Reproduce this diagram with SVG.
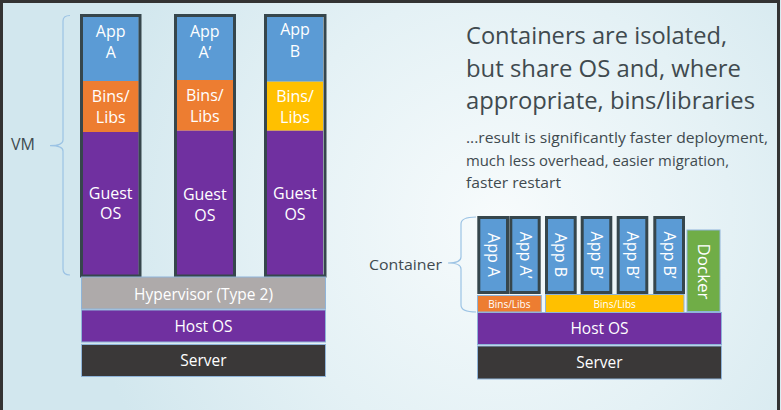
<svg xmlns="http://www.w3.org/2000/svg" width="781" height="410" viewBox="0 0 781 410">
<defs>
<radialGradient id="bg" cx="500" cy="220" r="420" gradientUnits="userSpaceOnUse">
<stop offset="0" stop-color="#f7fbfc"/>
<stop offset="0.55" stop-color="#e4f1f5"/>
<stop offset="1" stop-color="#d2e7ee"/>
</radialGradient>
<style>
.t{font-family:"Open Sans","Liberation Sans",sans-serif;fill:#ffffff;text-anchor:middle}
.c{font-size:16px}
.lbl{font-family:"Open Sans","Liberation Sans",sans-serif;fill:#404a4f}
.col{fill:none;stroke:#36464c;stroke-width:3}
.bar{stroke:#8fb4d9;stroke-width:1}
.brace{fill:none;stroke:#9cc3e4;stroke-width:1.2}
.app{fill:#5b9bd5;stroke:#36464c;stroke-width:3}
</style>
</defs>
<rect x="0" y="0" width="781" height="410" fill="url(#bg)"/>
<path d="M1.5 410 V1.5 H778.5 V410" fill="none" stroke="#333333" stroke-width="3"/>

<g id="vm-label">
<text class="lbl" x="11" y="150" font-size="16">VM</text>
</g>
<g id="containers-title">
<text class="lbl" x="466" y="44" font-size="24" textLength="261" lengthAdjust="spacingAndGlyphs">Containers are isolated,</text>
<text class="lbl" x="466" y="77" font-size="24" textLength="275" lengthAdjust="spacingAndGlyphs">but share OS and, where</text>
<text class="lbl" x="466" y="109" font-size="24" textLength="289" lengthAdjust="spacingAndGlyphs">appropriate, bins/libraries</text>
</g>
<g id="result-text">
<text class="lbl" x="466" y="143" font-size="14" textLength="302" lengthAdjust="spacingAndGlyphs">...result is significantly faster deployment,</text>
<text class="lbl" x="466" y="166" font-size="14" textLength="263" lengthAdjust="spacingAndGlyphs">much less overhead, easier migration,</text>
<text class="lbl" x="466" y="188" font-size="14" textLength="95" lengthAdjust="spacingAndGlyphs">faster restart</text>
</g>
<g id="container-label">
<text class="lbl" x="369" y="270" font-size="15" textLength="73" lengthAdjust="spacingAndGlyphs">Container</text>
</g>

<g id="connectors">
<path class="brace" d="M70 15.5 Q63 15.5 63 21 L63 140 Q63 145.7 50 145.7 Q63 145.7 63 151 L63 269 Q63 275 70 275"/>
<path class="brace" d="M476 217 Q461 217 461 224 L461 257 Q461 263 448 263 Q461 263 461 269 L461 305 Q461 312 476 312"/>
</g>

<g id="vm1">
<rect x="82.7" y="16" width="56" height="65" fill="#5b9bd5"/>
<rect x="82.7" y="81" width="56" height="51" fill="#ed7d31"/>
<rect x="82.7" y="132" width="56" height="144" fill="#7030a0"/>
<rect class="col" x="81.5" y="15.5" width="58.5" height="260.5"/>
<text class="t c" x="110.7" y="37">App</text>
<text class="t c" x="110.7" y="58">A</text>
<text class="t c" x="110.7" y="102">Bins/</text>
<text class="t c" x="110.7" y="123">Libs</text>
<text class="t c" x="110.7" y="199">Guest</text>
<text class="t c" x="110.7" y="219">OS</text>
</g>
<g id="vm2">
<rect x="176.7" y="16" width="56.3" height="64" fill="#5b9bd5"/>
<rect x="176.7" y="80" width="56.3" height="50.7" fill="#ed7d31"/>
<rect x="176.7" y="130.7" width="56.3" height="145.3" fill="#7030a0"/>
<rect class="col" x="175.5" y="15.5" width="59" height="260.5"/>
<text class="t c" x="204.8" y="37">App</text>
<text class="t c" x="204.8" y="58">A’</text>
<text class="t c" x="204.8" y="101">Bins/</text>
<text class="t c" x="204.8" y="122">Libs</text>
<text class="t c" x="204.8" y="200">Guest</text>
<text class="t c" x="204.8" y="221">OS</text>
</g>
<g id="vm3">
<rect x="267" y="16" width="56" height="65.7" fill="#5b9bd5"/>
<rect x="267" y="81.7" width="56" height="49" fill="#ffc000"/>
<rect x="267" y="130.7" width="56" height="145.3" fill="#7030a0"/>
<rect class="col" x="265.5" y="15.5" width="59.5" height="260.5"/>
<text class="t c" x="295" y="35">App</text>
<text class="t c" x="295" y="57">B</text>
<text class="t c" x="295" y="102">Bins/</text>
<text class="t c" x="295" y="123">Libs</text>
<text class="t c" x="295" y="199">Guest</text>
<text class="t c" x="295" y="220">OS</text>
</g>
<g id="hypervisor">
<rect class="bar" x="81.5" y="277" width="244" height="32" fill="#aeaaaa"/>
<text class="t" x="203.5" y="299.5" font-size="15.5">Hypervisor (Type 2)</text>
</g>
<g id="hostos-vm">
<rect class="bar" x="81.5" y="310" width="244" height="32" fill="#7030a0"/>
<text class="t" x="203.5" y="332" font-size="15.5">Host OS</text>
</g>
<g id="server-vm">
<rect class="bar" x="81.5" y="344.5" width="244" height="32" fill="#3a3838"/>
<text class="t" x="203.5" y="366" font-size="15.5">Server</text>
</g>

<g id="app-a">
<rect class="app" x="478.8" y="217.5" width="28.7" height="75"/>
<text class="t c" transform="translate(493.2,255) rotate(90)" y="5.5">App A</text>
</g>
<g id="app-a2">
<rect class="app" x="510.8" y="217.5" width="28.4" height="75"/>
<text class="t c" transform="translate(525,255) rotate(90)" y="5.5">App A’</text>
</g>
<g id="app-b">
<rect class="app" x="546.5" y="217.5" width="28.7" height="75"/>
<text class="t c" transform="translate(560.8,255) rotate(90)" y="5.5">App B</text>
</g>
<g id="app-b2">
<rect class="app" x="582.2" y="217.5" width="28.6" height="75"/>
<text class="t c" transform="translate(596.5,255) rotate(90)" y="5.5">App B’</text>
</g>
<g id="app-b3">
<rect class="app" x="618.2" y="217.5" width="28.6" height="75"/>
<text class="t c" transform="translate(632.5,255) rotate(90)" y="5.5">App B’</text>
</g>
<g id="app-b4">
<rect class="app" x="654.8" y="217.5" width="28.7" height="75"/>
<text class="t c" transform="translate(669.1,255) rotate(90)" y="5.5">App B’</text>
</g>
<g id="docker">
<rect class="bar" x="687" y="230" width="33" height="81.5" fill="#70ad47"/>
<text class="t" transform="translate(703.5,271.5) rotate(90)" y="6" font-size="17">Docker</text>
</g>
<g id="bins-libs-a">
<rect class="bar" x="477.5" y="295.5" width="63.8" height="16.5" fill="#ed7d31"/>
<text class="t" x="509.4" y="307.5" font-size="10">Bins/Libs</text>
</g>
<g id="bins-libs-b">
<rect class="bar" x="545.5" y="294.5" width="138.5" height="18" fill="#ffc000"/>
<text class="t" x="614.7" y="307.5" font-size="10">Bins/Libs</text>
</g>
<g id="hostos-c">
<rect class="bar" x="477.5" y="312.5" width="244" height="32" fill="#7030a0"/>
<text class="t" x="599.5" y="334" font-size="15.5">Host OS</text>
</g>
<g id="server-c">
<rect class="bar" x="477.5" y="346" width="244" height="33" fill="#3a3838"/>
<text class="t" x="599.5" y="368" font-size="15.5">Server</text>
</g>
</svg>
